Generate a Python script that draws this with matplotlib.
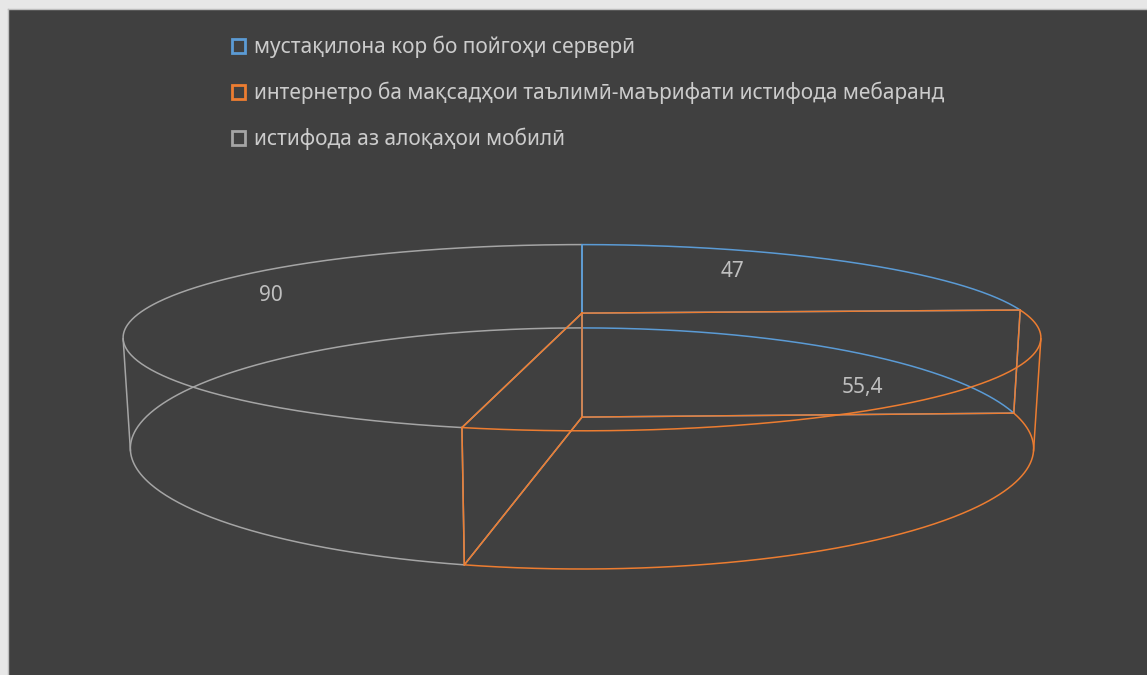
import numpy as np
import matplotlib.pyplot as plt
from matplotlib.patches import Patch

plt.rcParams['font.family'] = ['Noto Sans', 'DejaVu Sans']

# Data
categories = ['мустақилона кор бо пойгоҳи серверӣ',
              'интернетро ба мақсадҳои таълимӣ-маърифати истифода мебаранд',
              'истифода аз алоқаҳои мобилӣ']
values = [47, 55.4, 90]
value_labels = ['47', '55,4', '90']
colors = ['#5B9BD5', '#ED7D31', '#A5A5A5']

# camera for the 3d pie (units = pie radius, screen = pixels)
L = 3.62          # horizontal distance camera -> pie axis
H_CAM = 0.965     # camera height above pie bottom
THICK = 0.243     # pie thickness
FOCAL = 1633
CX, CY = 582, 365.5
TILT = np.arctan2(H_CAM - THICK / 2, L)


def project(x, y, z):
    qy = np.asarray(y) + L
    qz = np.asarray(z) - H_CAM
    d = qy * np.cos(TILT) - qz * np.sin(TILT)
    up = qy * np.sin(TILT) + qz * np.cos(TILT)
    return CX + FOCAL * np.asarray(x) / d, CY - FOCAL * up / d


fig = plt.figure(figsize=(11.47, 6.75), dpi=100, facecolor='#E7E7E7')
ax = fig.add_axes([8 / 1147, 0, 1139 / 1147, 666 / 675])
ax.set_facecolor('#404040')
ax.set_xlim(8, 1147)
ax.set_ylim(675, 9)
ax.set_xticks([])
ax.set_yticks([])
for s in ['right', 'bottom']:
    ax.spines[s].set_visible(False)
for s in ['left', 'top']:
    ax.spines[s].set_color('#BDBDBD')
    ax.spines[s].set_linewidth(1)

total = sum(values)
edges = np.concatenate([[0], np.cumsum(values)]) / total * 2 * np.pi
sil = np.arccos(-1 / L)   # where the side wall is tangent to the view
sil_angles = [sil, 2 * np.pi - sil]
zorders = [2, 3, 1]

for i in range(len(values)):
    a0, a1 = edges[i], edges[i + 1]
    th = np.linspace(a0, a1, 300)
    # top and bottom faces
    for z in (0, THICK):
        xs = np.concatenate([[0], np.sin(th), [0]])
        ys = np.concatenate([[0], np.cos(th), [0]])
        px, py = project(xs, ys, np.full(len(xs), z))
        ax.plot(px, py, color=colors[i], lw=1.1, zorder=zorders[i])
    # vertical edges
    verts = [(0, 0), (np.sin(a0), np.cos(a0)), (np.sin(a1), np.cos(a1))]
    for s in sil_angles:
        if a0 < s < a1:
            verts.append((np.sin(s), np.cos(s)))
    for vx, vy in verts:
        px, py = project([vx, vx], [vy, vy], [0, THICK])
        ax.plot(px, py, color=colors[i], lw=1.1, zorder=zorders[i])

# data labels
label_r = [0.54, 0.82, 0.72]
label_dy = [-11, 9, -11]
mid = (edges[:-1] + edges[1:]) / 2
for i in range(len(values)):
    px, py = project(label_r[i] * np.sin(mid[i]), label_r[i] * np.cos(mid[i]), THICK)
    ax.text(px, py + label_dy[i], value_labels[i], ha='center', va='center',
            fontsize=15, color='#BFBFBF', zorder=5)

handles = [Patch(facecolor='none', edgecolor=c, linewidth=2, label=l)
           for c, l in zip(colors, categories)]
ax.legend(handles=handles, loc='upper left', bbox_to_anchor=(232 / 1147, 1 - 36 / 675),
          bbox_transform=fig.transFigure, frameon=False, fontsize=15,
          labelcolor='#CCCCCC', handlelength=0.6, handleheight=0.6,
          handletextpad=0.45, labelspacing=1.13, borderpad=0, borderaxespad=0)

fig.savefig('out.png', dpi=100, facecolor=fig.get_facecolor())
